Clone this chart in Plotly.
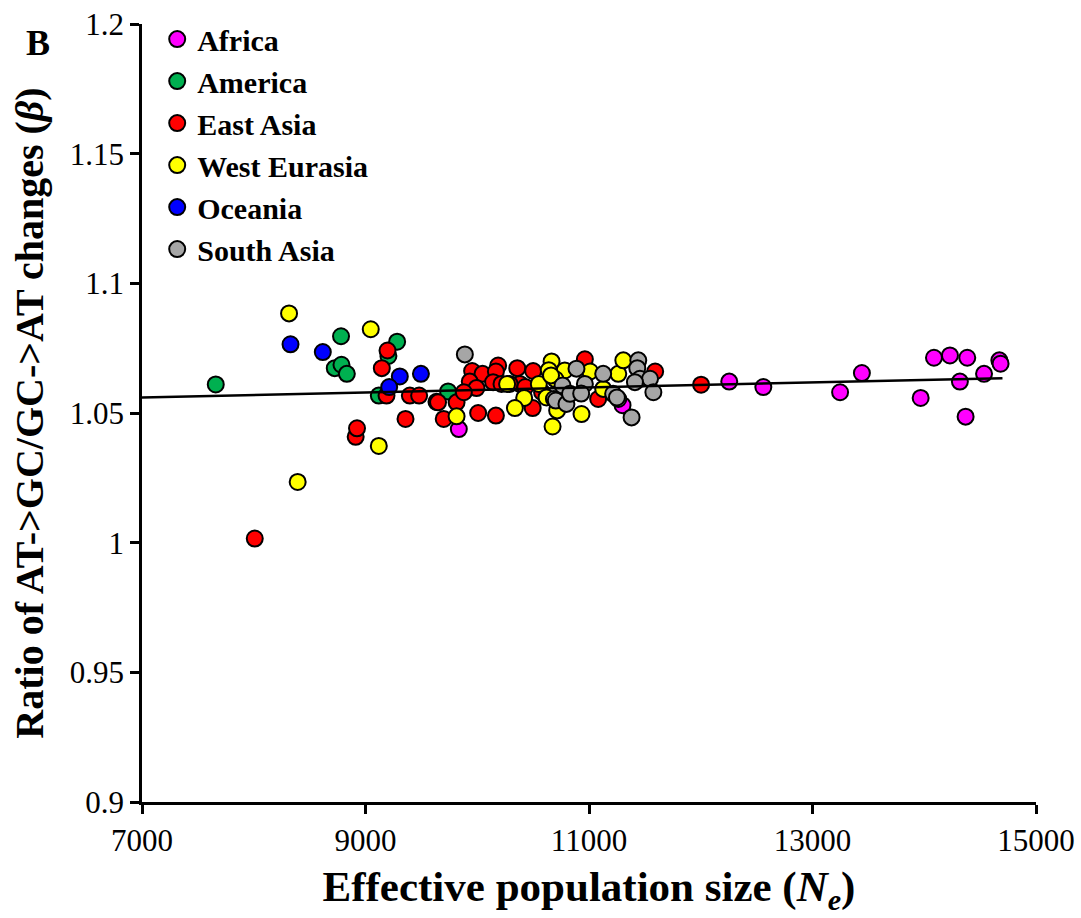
import plotly.graph_objects as go

# ---- data ----
africa_x = [9835, 12255, 12560, 13247, 13442, 13968, 14087, 14230, 14385, 14319, 14370, 14535, 14672, 14683, 11300]
africa_y = [1.0438, 1.0621, 1.0600, 1.0580, 1.0654, 1.0558, 1.0713, 1.0722, 1.0713, 1.0621, 1.0486, 1.0651, 1.0703, 1.0690, 1.0530]

america_x = [7660, 8725, 8781, 8785, 8833, 9283, 9205, 9119, 9739]
america_y = [1.0610, 1.0673, 1.0796, 1.0686, 1.0651, 1.0775, 1.0720, 1.0567, 1.0583]

east_asia_x = [8009, 8912, 8924, 9146, 9197, 9188, 9397, 9480, 9358, 9635, 9649, 9700, 9815,
               9954, 10047, 10187, 10167, 10358, 10500, 9933, 9993, 9880, 10142, 10217, 10381,
               10290, 10430, 10580, 10008, 10167, 10496, 10963, 11082, 11592, 12003]
east_asia_y = [1.0016, 1.0408, 1.0441, 1.0673, 1.0741, 1.0567, 1.0567, 1.0567, 1.0477, 1.0543, 1.0541, 1.0477, 1.0541,
               1.0662, 1.0651, 1.0683, 1.0660, 1.0673, 1.0662, 1.0621, 1.0596, 1.0580, 1.0619, 1.0612, 1.0612,
               1.0612, 1.0600, 1.0580, 1.0500, 1.0490, 1.0519, 1.0707, 1.0554, 1.0660, 1.0609]

west_eurasia_x = [8316, 8393, 9047, 9119, 9815, 10267, 10551, 10420, 10337, 10665, 10674, 10620,
                  10783, 10933, 11127, 11262, 11307, 10715, 10640, 11010, 10700, 10660]
west_eurasia_y = [1.0884, 1.0234, 1.0823, 1.0373, 1.0487, 1.0612, 1.0612, 1.0558, 1.0519, 1.0699, 1.0448, 1.0560,
                  1.0664, 1.0496, 1.0593, 1.0651, 1.0703, 1.0510, 1.0665, 1.0660, 1.0630, 1.0645]

oceania_x = [8329, 8618, 9307, 9496, 9212]
oceania_y = [1.0765, 1.0735, 1.0641, 1.0651, 1.0600]

south_asia_x = [9889, 10686, 10888, 10963, 10763, 10703, 10798, 11127, 11441, 11432, 11456, 11546,
                11576, 11381, 11216, 11262, 11411, 10830, 10930, 11250]
south_asia_y = [1.0726, 1.0554, 1.0671, 1.0612, 1.0606, 1.0548, 1.0535, 1.0651, 1.0703, 1.0673, 1.0632, 1.0632,
                1.0580, 1.0483, 1.0574, 1.0554, 1.0619, 1.0574, 1.0575, 1.0560]

trend_x = [7000, 14700]
trend_y = [1.0560, 1.0634]

x_ticks = [7000, 9000, 11000, 13000, 15000]
y_ticks = [0.9, 0.95, 1.0, 1.05, 1.1, 1.15, 1.2]
y_tick_labels = ["0.9", "0.95", "1", "1.05", "1.1", "1.15", "1.2"]

series = [
    ("Africa", africa_x, africa_y, "#FF00FF"),
    ("America", america_x, america_y, "#00B050"),
    ("East Asia", east_asia_x, east_asia_y, "#FF0000"),
    ("West Eurasia", west_eurasia_x, west_eurasia_y, "#FFFF00"),
    ("Oceania", oceania_x, oceania_y, "#0000FF"),
    ("South Asia", south_asia_x, south_asia_y, "#A6A6A6"),
]

FONT = "Liberation Serif"

fig = go.Figure()
for name, xs, ys, col in series:
    fig.add_trace(go.Scatter(
        x=xs, y=ys, mode="markers", name=name,
        marker=dict(size=16, color=col, line=dict(color="black", width=2)),
    ))

fig.add_trace(go.Scatter(
    x=trend_x, y=trend_y, mode="lines", showlegend=False,
    line=dict(color="black", width=2.5),
))

fig.update_layout(
    width=1081, height=918,
    margin=dict(l=142, r=45, t=24, b=116, autoexpand=False),
    paper_bgcolor="white", plot_bgcolor="white",
    font=dict(family=FONT, color="black", size=30),
    showlegend=True,
    legend=dict(
        x=0.017, y=1.014, xanchor="left", yanchor="top",
        font=dict(family=FONT, size=30, color="black", weight="bold"),
        bgcolor="rgba(0,0,0,0)", borderwidth=0,
        itemsizing="trace",
    ),
    annotations=[dict(
        text="<b>B</b>", xref="paper", yref="paper",
        x=-0.116, y=0.975, xanchor="center", yanchor="middle",
        showarrow=False, font=dict(family=FONT, size=36, color="black"),
    )],
)

fig.update_xaxes(
    range=[7000, 15000], tickmode="array", tickvals=x_ticks,
    ticktext=[str(v) for v in x_ticks],
    showline=True, linecolor="black", linewidth=2.5,
    ticks="outside", ticklen=9, tickwidth=2.5, tickcolor="black",
    showgrid=False, zeroline=False, automargin=False,
    tickfont=dict(family=FONT, size=31, color="black"),
    title=dict(text="<b>Effective population size (<i>N<sub>e</sub></i>)</b>",
               font=dict(family=FONT, size=43, color="black"), standoff=14),
)
fig.update_yaxes(
    range=[0.9, 1.2], tickmode="array", tickvals=y_ticks, ticktext=y_tick_labels,
    showline=True, linecolor="black", linewidth=2.5,
    ticks="outside", ticklen=9, tickwidth=2.5, tickcolor="black",
    showgrid=False, zeroline=False, automargin=False,
    tickfont=dict(family=FONT, size=31, color="black"),
    title=dict(text="<b>Ratio of AT-&gt;GC/GC-&gt;AT changes (<i>β</i>)</b>",
               font=dict(family=FONT, size=40, color="black"), standoff=14),
)

fig.write_html("out.html")
